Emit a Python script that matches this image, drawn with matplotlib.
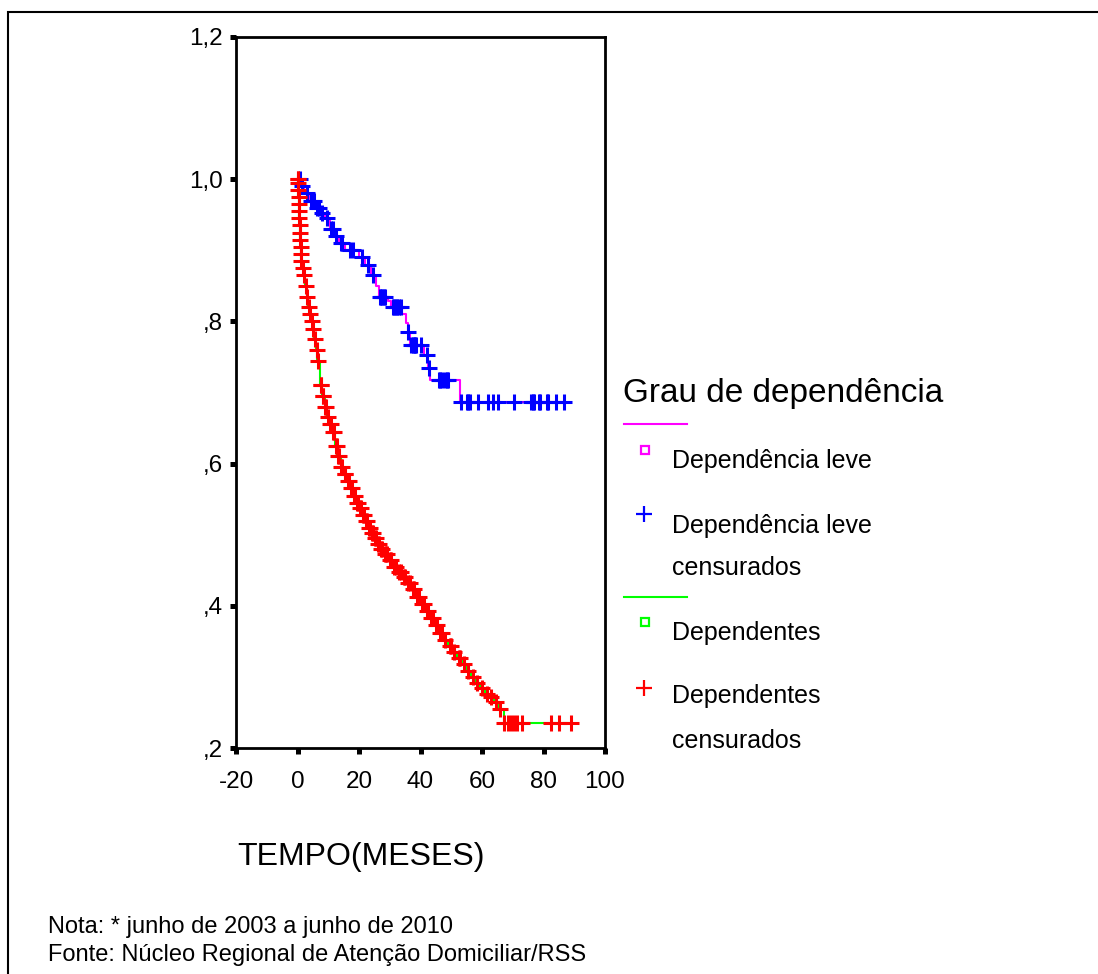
import numpy as np
import matplotlib
matplotlib.use("Agg")
import matplotlib.pyplot as plt
from matplotlib.lines import Line2D
from matplotlib.patches import Rectangle

plt.rcParams["font.family"] = ["Liberation Sans", "DejaVu Sans"]

# Kaplan-Meier estimates: event times (months) and survival after each event
leve_event_t = [1, 2, 4, 6, 7.5, 9, 10.5, 12, 13.5, 15.5, 20, 22, 24, 25.5, 26.5,
                29.5, 30.5, 34, 35.2, 35.8, 36.5, 41, 42.5, 43, 53]
leve_event_s = [0.99, 0.98, 0.97, 0.96, 0.953, 0.945, 0.93, 0.92, 0.91, 0.90, 0.89,
                0.88, 0.865, 0.85, 0.835, 0.828, 0.82, 0.81, 0.798, 0.785, 0.767,
                0.753, 0.735, 0.717, 0.687]
leve_cens_t = [0.8, 1.5, 3, 4.5, 5, 5.5, 6.5, 7, 8, 9.5, 11, 11.5, 12.5, 14, 14.5,
               17, 18, 21, 23, 24.5, 26.8, 27.2, 27.6, 28, 28.5, 31, 31.5, 32, 32.5,
               33, 33.5, 35.9, 37, 37.4, 37.8, 38.2, 38.6, 40, 42.2, 42.7, 46, 46.5,
               47, 48, 48.5, 49, 53.3, 55, 55.5, 56, 58.6, 61.9, 63.5, 65.1, 70.3,
               76, 76.5, 77, 78.5, 79, 81, 81.5, 84, 86.7]

dep_event_t = [0.1, 0.2, 0.3, 0.4, 0.5, 0.6, 0.7, 0.8, 0.9, 1.0, 1.1, 1.2, 1.4, 2,
               2.5, 3, 3.5, 4, 4.5, 5, 5.5, 6, 6.5, 7.2, 8, 8.8, 9.5, 10.2, 11, 12.3,
               13, 14, 15, 16, 17, 18, 19, 20, 21, 22, 23, 24, 25, 26, 27, 28, 29.5,
               31, 32.5, 34, 35.5, 37, 38.5, 40, 41.5, 43, 44.5, 46, 47.5, 49, 50.5,
               52, 53.5, 55, 56.5, 58, 59.5, 61, 62.5, 64, 65.5, 67]
dep_event_s = [0.995, 0.985, 0.975, 0.965, 0.955, 0.945, 0.935, 0.925, 0.915, 0.905,
               0.895, 0.885, 0.875, 0.865, 0.85, 0.835, 0.82, 0.81, 0.80, 0.79, 0.775,
               0.76, 0.745, 0.71, 0.695, 0.68, 0.665, 0.655, 0.645, 0.625, 0.61, 0.595,
               0.585, 0.575, 0.565, 0.555, 0.545, 0.537, 0.528, 0.519, 0.51, 0.502,
               0.495, 0.487, 0.48, 0.473, 0.465, 0.455, 0.447, 0.44, 0.432, 0.423,
               0.413, 0.403, 0.393, 0.383, 0.373, 0.362, 0.352, 0.343, 0.335, 0.327,
               0.318, 0.309, 0.30, 0.292, 0.284, 0.276, 0.272, 0.265, 0.255, 0.235]
dep_cens_t = [0, 0.05, 0.15, 0.25, 0.35, 0.45, 0.55, 0.65, 0.75, 0.85, 0.95, 1.05,
              1.15, 1.3, 1.7, 2.2, 2.7, 3.2, 3.7, 4.2, 4.7, 5.2, 5.7, 6.2, 6.8, 7.5,
              7.7, 8.2, 8.4, 9, 9.2, 9.8, 10.5, 10.8, 11.5, 12, 12.6, 12.8, 13.3, 13.6,
              14.3, 14.6, 15.3, 15.6, 16.3, 16.6, 17.3, 17.6, 18.3, 18.6, 19.3, 19.6,
              20.3, 20.6, 21.3, 21.6, 22.3, 22.6, 23.3, 23.6, 24.3, 24.6, 25.3, 25.6,
              26.3, 26.6, 27.3, 27.6, 28.3, 28.8, 29, 30, 30.5, 31.5, 32, 33, 33.5,
              34.5, 35, 36, 36.5, 37.5, 38, 39, 39.5, 40.5, 41, 42, 42.5, 43.5, 44,
              45, 45.5, 46.5, 47, 48, 49.5, 50, 51, 52.5, 53, 54, 55.5, 57, 58.5, 60,
              61.5, 63, 64.5, 66, 67.3, 68.5, 69.5, 70.5, 71.5, 73, 82.5, 85, 89]

x_ticks = [-20, 0, 20, 40, 60, 80, 100]
y_ticks = [0.2, 0.4, 0.6, 0.8, 1.0, 1.2]
y_tick_labels = [",2", ",4", ",6", ",8", "1,0", "1,2"]

W, H = 1098, 974


def fx(x):
    return x / W


def fy(y):
    return 1 - y / H


def km_curve(event_t, event_s, cens_t):
    """Step coordinates from t=0 to the last observation, plus censor points."""
    t = np.concatenate([[0.0], event_t])
    s = np.concatenate([[1.0], event_s])
    last = max(max(event_t), max(cens_t))
    t_line = np.append(t, last)
    s_line = np.append(s, s[-1])
    idx = np.searchsorted(t, cens_t, side="right") - 1
    return t_line, s_line, np.asarray(cens_t), s[idx]


fig = plt.figure(figsize=(W / 100, H / 100), dpi=100)
ax = fig.add_axes([fx(236), fy(748), fx(605) - fx(236), fy(37) - fy(748)])

groups = [
    (leve_event_t, leve_event_s, leve_cens_t, "#ff00ff", "#0000ff"),
    (dep_event_t, dep_event_s, dep_cens_t, "#00ff00", "#ff0000"),
]
for ev_t, ev_s, c_t, line_color, mark_color in groups:
    t_line, s_line, ct, cs = km_curve(ev_t, ev_s, c_t)
    ax.step(t_line, s_line, where="post", color=line_color, lw=1.5, zorder=2)
    ax.plot(ct, cs, ls="none", marker="+", ms=11, mew=2.2, color=mark_color, zorder=3)

ax.set_xlim(-20, 100)
ax.set_ylim(0.2, 1.2)
ax.set_xticks(x_ticks)
ax.set_xticklabels([str(v) for v in x_ticks])
ax.set_yticks(y_ticks)
ax.set_yticklabels(y_tick_labels)
for sp in ax.spines.values():
    sp.set_linewidth(2)
ax.tick_params(axis="both", direction="out", length=4.5, width=3.6, labelsize=17.5)
ax.tick_params(axis="x", pad=12)
ax.tick_params(axis="y", pad=5)

ax.set_xlabel("TEMPO(MESES)", fontsize=23)
ax.xaxis.set_label_coords((361 - 236) / 369, (748 - 857) / 711)
ax.xaxis.label.set_va("center")

# legend drawn by hand to keep the stacked two-line entries
fig.text(fx(623), fy(402), "Grau de dependência", fontsize=24, va="baseline")
fig.add_artist(Line2D([fx(624), fx(687)], [fy(424), fy(424)], color="#ff00ff", lw=1.5))
fig.add_artist(Line2D([fx(645)], [fy(450)], marker="s", ms=6, mfc="none", mec="#ff00ff",
                      mew=1.6, ls="none"))
fig.text(fx(672), fy(468), "Dependência leve", fontsize=18, va="baseline")
fig.add_artist(Line2D([fx(644)], [fy(514)], marker="+", ms=12, mew=1.6, color="#0000ff",
                      ls="none"))
fig.text(fx(672), fy(533), "Dependência leve", fontsize=18, va="baseline")
fig.text(fx(672), fy(575), "censurados", fontsize=18, va="baseline")
fig.add_artist(Line2D([fx(624), fx(687)], [fy(597), fy(597)], color="#00ff00", lw=1.5))
fig.add_artist(Line2D([fx(645)], [fy(622)], marker="s", ms=6, mfc="none", mec="#00ff00",
                      mew=1.6, ls="none"))
fig.text(fx(672), fy(640), "Dependentes", fontsize=18, va="baseline")
fig.add_artist(Line2D([fx(644)], [fy(688)], marker="+", ms=12, mew=1.6, color="#ff0000",
                      ls="none"))
fig.text(fx(672), fy(703), "Dependentes", fontsize=18, va="baseline")
fig.text(fx(672), fy(748), "censurados", fontsize=18, va="baseline")

fig.text(fx(48), fy(933), "Nota: * junho de 2003 a junho de 2010", fontsize=17, va="baseline")
fig.text(fx(48), fy(961), "Fonte: Núcleo Regional de Atenção Domiciliar/RSS", fontsize=17,
         va="baseline")

# outer frame, open past the right and bottom edges
fig.add_artist(Rectangle((fx(8), fy(1000)), 1.2, fy(12) - fy(1000), fill=False,
                         lw=1.5, ec="black", transform=fig.transFigure))

fig.savefig("out.png", dpi=100)
